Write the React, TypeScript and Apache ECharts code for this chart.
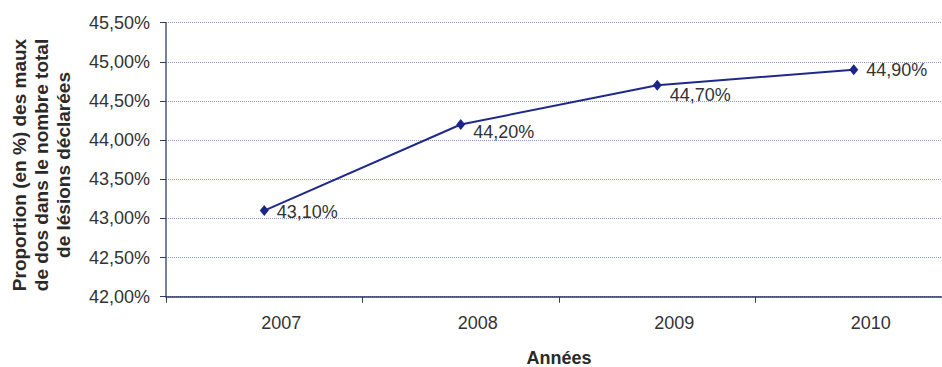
import React, { useEffect, useRef } from "react";
import * as echarts from "echarts";

const years = ["2007", "2008", "2009", "2010"];
const shares = [43.1, 44.2, 44.7, 44.9];
const yMin = 42;
const yMax = 45.5;
const yStep = 0.5;
const yTitle = "Proportion (en %) des maux\nde dos dans le nombre total\nde lésions déclarées";
const xTitle = "Années";
const labelOffsets = [[0, 1], [0, 8], [0, 10], [0, 0]];

const fmt = (v: number) => v.toFixed(2).replace(".", ",") + "%";

export default function App() {
  const ref = useRef<HTMLDivElement>(null);
  useEffect(() => {
    if (!ref.current) return;
    const chart = echarts.init(ref.current, null, { renderer: "svg" });
    const font = "'Liberation Sans', Arial, sans-serif";
    chart.setOption({
      animation: false,
      backgroundColor: "#ffffff",
      textStyle: { fontFamily: font },
      grid: {
        left: 166,
        top: 22.7,
        height: 274,
        right: -10,
        containLabel: false,
        outerBoundsMode: "none",
      },
      xAxis: {
        type: "category",
        data: years,
        boundaryGap: true,
        name: xTitle,
        nameLocation: "middle",
        nameGap: 52,
        nameTextStyle: { fontFamily: font, fontSize: 18, fontWeight: "bold", color: "#2a2a2a" },
        axisLine: { show: true, lineStyle: { color: "#2c3566", width: 1.5 } },
        axisTick: { show: true, length: 6, lineStyle: { color: "#333a55" } },
        axisLabel: {
          fontFamily: font,
          fontSize: 18,
          color: "#333333",
          margin: 17,
          padding: [0, 0, 0, 34],
        },
        splitLine: { show: false },
      },
      yAxis: {
        type: "value",
        min: yMin,
        max: yMax,
        interval: yStep,
        axisLine: { show: true, lineStyle: { color: "#4a5878", width: 1.5 } },
        axisTick: { show: true, length: 6, lineStyle: { color: "#333a55" } },
        axisLabel: {
          fontFamily: font,
          fontSize: 18,
          color: "#333333",
          margin: 16,
          formatter: (v: number) => fmt(v),
        },
        splitLine: { show: true, lineStyle: { color: "#8f95c4", type: "dotted", width: 1 } },
      },
      graphic: [
        {
          type: "text",
          x: 41,
          y: 165,
          rotation: Math.PI / 2,
          style: {
            text: yTitle,
            fill: "#2a2a2a",
            font: `bold 19px ${font}`,
            textAlign: "center",
            textVerticalAlign: "middle",
            lineHeight: 22,
          },
        },
      ],
      series: [
        {
          type: "line",
          data: shares.map((v, i) => ({
            value: v,
            label: { offset: labelOffsets[i] },
          })),
          symbol: "diamond",
          symbolSize: [9, 11],
          lineStyle: { color: "#1f2a88", width: 2 },
          itemStyle: { color: "#1a2586" },
          label: {
            show: true,
            position: "right",
            distance: 8,
            fontFamily: font,
            fontSize: 18,
            color: "#333333",
            formatter: (p: any) => fmt(p.value),
          },
        },
      ],
    });
    return () => chart.dispose();
  }, []);
  return (
    <div
      ref={ref}
      style={{ position: "absolute", left: 0, top: 0, width: 942, height: 367 }}
    />
  );
}
